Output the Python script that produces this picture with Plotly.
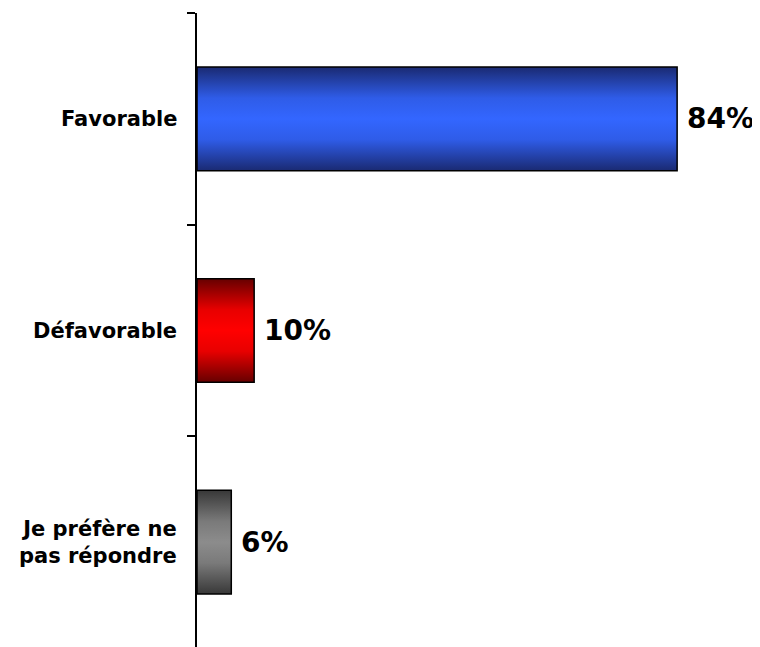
import plotly.graph_objects as go

categories = ["Favorable", "Défavorable", "Je préfère ne<br>pas répondre"]
values = [84, 10, 6]
value_labels = ["84%", "10%", "6%"]
edge_colors = ["#1a2a72", "#660000", "#383838"]
mid_colors = ["#3366ff", "#ff0000", "#8c8c8c"]
near_colors = ["#2f5ce8", "#e80000", "#7a7a7a"]

half = 0.245
FONT = "Verdana, DejaVu Sans, sans-serif"

fig = go.Figure()
for i, (cat, v) in enumerate(zip(categories, values)):
    fig.add_trace(go.Scatter(
        x=[0, v, v, 0, 0],
        y=[i - half, i - half, i + half, i + half, i - half],
        mode="lines",
        fill="toself",
        fillgradient=dict(type="vertical",
                          colorscale=[[0, edge_colors[i]], [0.3, near_colors[i]],
                                      [0.5, mid_colors[i]], [0.7, near_colors[i]],
                                      [1, edge_colors[i]]]),
        line=dict(color="black", width=1.5),
        hoverinfo="skip",
        showlegend=False,
    ))

annotations = []
for i, (cat, v, lab) in enumerate(zip(categories, values, value_labels)):
    annotations.append(dict(
        x=v, y=i, xref="x", yref="y", text=lab, showarrow=False,
        xanchor="left", yanchor="middle", xshift=8,
        font=dict(family=FONT, size=28, color="black", weight="bold"),
    ))
    annotations.append(dict(
        x=0, y=i, xref="paper", yref="y", text=cat, showarrow=False,
        xanchor="right", yanchor="middle", xshift=-18, align="right",
        font=dict(family=FONT, size=21, color="black", weight="bold"),
    ))

fig.update_layout(
    width=752, height=640,
    margin=dict(l=189, r=20, t=5, b=0),
    paper_bgcolor="white", plot_bgcolor="white",
    annotations=annotations,
    xaxis=dict(visible=False, range=[0, 95], fixedrange=True),
    yaxis=dict(range=[2.5, -0.5], showline=True, linecolor="black", linewidth=1.5,
               ticks="outside", ticklen=8, tickwidth=1.5, tickcolor="black",
               tickvals=[-0.5, 0.5, 1.5, 2.5], showticklabels=False,
               showgrid=False, zeroline=False),
)

fig.write_html("out.html")
